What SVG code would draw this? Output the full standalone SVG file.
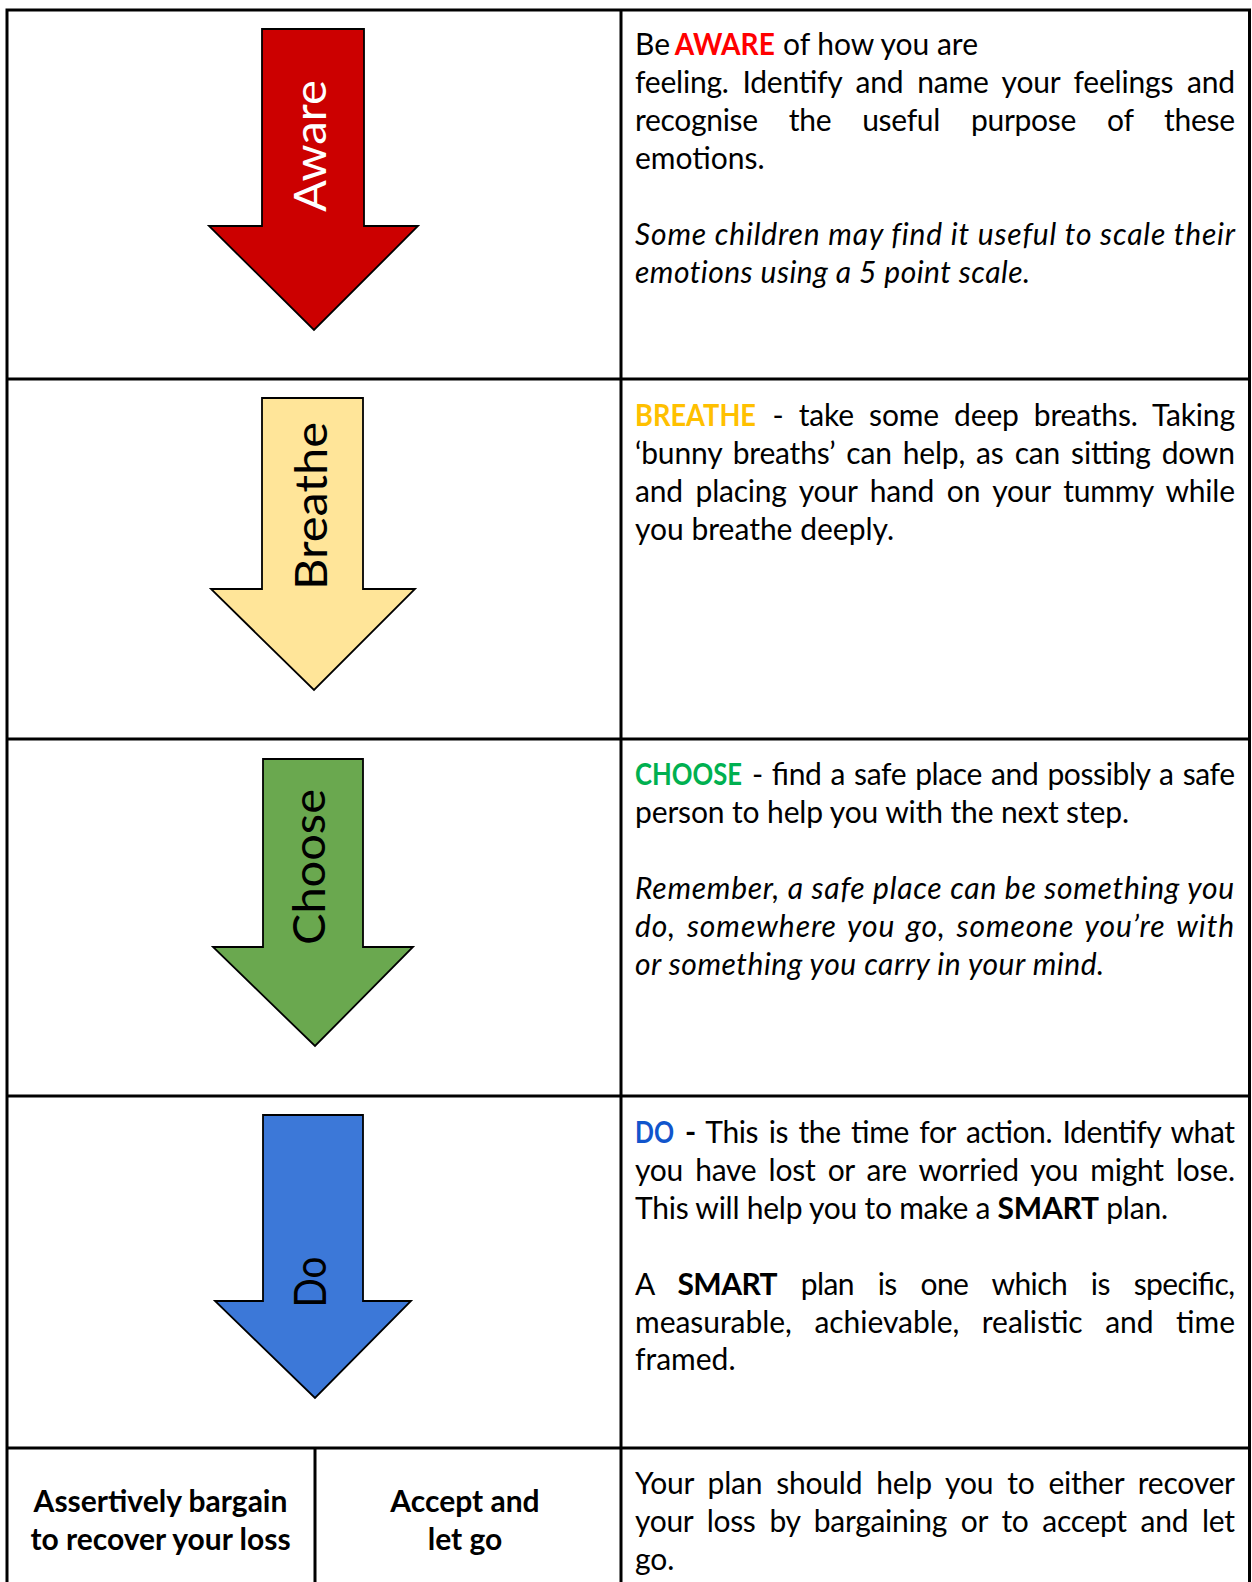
<svg xmlns="http://www.w3.org/2000/svg" width="1252" height="1582" viewBox="0 0 1252 1582">
<style>
.t{font-family:Lato,"Open Sans",sans-serif;font-size:30px;fill:#000}
.i{font-style:italic;letter-spacing:0.9px}
.b{font-weight:bold}
.lbl{font-family:Lato,"Noto Sans",sans-serif;font-size:44px;text-anchor:middle}
.arrow{stroke:#000;stroke-width:1.8;stroke-linejoin:miter}
.grid{stroke:#000;stroke-width:3;fill:none}
.c{text-anchor:middle}
</style>
<rect width="1252" height="1582" fill="#fff"/>
<g id="table" class="grid">
<path d="M5.5 10H1251M7 8.5V1582M1249.5 8.5V1582M621 10V1582M7 379H1250M7 739H1250M7 1096H1250M7 1448H1250M315 1448V1582"/>
</g>
<g id="connectors"></g>
<g id="node-aware">
<polygon class="arrow" fill="#cc0000" points="262,29 364,29 364,226 418,226 314,330 209,226 262,226"/>
<text class="lbl" fill="#fff" transform="translate(326,146) rotate(-90)" textLength="132" lengthAdjust="spacingAndGlyphs">Aware</text>
</g>
<g id="node-breathe">
<polygon class="arrow" fill="#ffe599" points="262,398 363,398 363,589 415,589 314,690 211,589 262,589"/>
<text class="lbl" fill="#000" transform="translate(326.5,506) rotate(-90)" textLength="168" lengthAdjust="spacingAndGlyphs">Breathe</text>
</g>
<g id="node-choose">
<polygon class="arrow" fill="#6aa84f" points="263,759 363,759 363,947 413,947 315,1046 213,947 263,947"/>
<text class="lbl" fill="#000" transform="translate(325,867) rotate(-90)" textLength="156" lengthAdjust="spacingAndGlyphs">Choose</text>
</g>
<g id="node-do">
<polygon class="arrow" fill="#3c78d8" points="263,1115 363,1115 363,1301 411,1301 315,1398 215,1301 263,1301"/>
<text class="lbl" fill="#000" transform="translate(325.5,1282) rotate(-90)" textLength="51" lengthAdjust="spacingAndGlyphs">Do</text>
</g>
<g id="text-aware" class="t">
<text x="635" y="55">Be</text>
<text class="b" fill="#ff0000" transform="translate(674.8,55) scale(0.93,1)" textLength="107.5" lengthAdjust="spacingAndGlyphs">AWARE</text>
<text x="783" y="55" textLength="195" lengthAdjust="spacing"><tspan>of</tspan> <tspan>how</tspan> <tspan>you</tspan> <tspan>are</tspan></text>
<text x="635" y="93" textLength="600" lengthAdjust="spacing" style="word-spacing:6.3px"><tspan>feeling.</tspan> <tspan>Identify</tspan> <tspan>and</tspan> <tspan>name</tspan> <tspan>your</tspan> <tspan>feelings</tspan> <tspan>and</tspan></text>
<text x="635" y="131" textLength="600" lengthAdjust="spacing" style="word-spacing:23.6px"><tspan>recognise</tspan> <tspan>the</tspan> <tspan>useful</tspan> <tspan>purpose</tspan> <tspan>of</tspan> <tspan>these</tspan></text>
<text x="635" y="169">emotions.</text>
<text x="635" y="245" class="i" textLength="601" lengthAdjust="spacing"><tspan>Some</tspan> <tspan>children</tspan> <tspan>may</tspan> <tspan>find</tspan> <tspan>it</tspan> <tspan>useful</tspan> <tspan>to</tspan> <tspan>scale</tspan> <tspan>their</tspan></text>
<text x="635" y="283" class="i" textLength="396" lengthAdjust="spacing"><tspan>emotions</tspan> <tspan>using</tspan> <tspan>a</tspan> <tspan>5</tspan> <tspan>point</tspan> <tspan>scale.</tspan></text>
</g>
<g id="text-breathe" class="t">
<text class="b" fill="#ffc000" transform="translate(635,426) scale(0.91,1)" textLength="133" lengthAdjust="spacingAndGlyphs">BREATHE</text>
<text x="772.6" y="426" textLength="462.4" lengthAdjust="spacing" style="word-spacing:7.7px"><tspan>-</tspan> <tspan>take</tspan> <tspan>some</tspan> <tspan>deep</tspan> <tspan>breaths.</tspan> <tspan>Taking</tspan></text>
<text x="635" y="464" textLength="600" lengthAdjust="spacing" style="word-spacing:3.5px"><tspan>‘bunny</tspan> <tspan>breaths’</tspan> <tspan>can</tspan> <tspan>help,</tspan> <tspan>as</tspan> <tspan>can</tspan> <tspan>sitting</tspan> <tspan>down</tspan></text>
<text x="635" y="502" textLength="600" lengthAdjust="spacing" style="word-spacing:5.3px"><tspan>and</tspan> <tspan>placing</tspan> <tspan>your</tspan> <tspan>hand</tspan> <tspan>on</tspan> <tspan>your</tspan> <tspan>tummy</tspan> <tspan>while</tspan></text>
<text x="635" y="540"><tspan>you</tspan> <tspan>breathe</tspan> <tspan>deeply.</tspan></text>
</g>
<g id="text-choose" class="t">
<text class="b" fill="#00b050" transform="translate(635,785) scale(0.87,1)" textLength="123" lengthAdjust="spacingAndGlyphs">CHOOSE</text>
<text x="752" y="785" textLength="483" lengthAdjust="spacing" style="word-spacing:1.8px"><tspan>-</tspan> <tspan>find</tspan> <tspan>a</tspan> <tspan>safe</tspan> <tspan>place</tspan> <tspan>and</tspan> <tspan>possibly</tspan> <tspan>a</tspan> <tspan>safe</tspan></text>
<text x="635" y="823" textLength="494" lengthAdjust="spacing"><tspan>person</tspan> <tspan>to</tspan> <tspan>help</tspan> <tspan>you</tspan> <tspan>with</tspan> <tspan>the</tspan> <tspan>next</tspan> <tspan>step.</tspan></text>
<text x="635" y="899" class="i" textLength="600" lengthAdjust="spacing"><tspan>Remember,</tspan> <tspan>a</tspan> <tspan>safe</tspan> <tspan>place</tspan> <tspan>can</tspan> <tspan>be</tspan> <tspan>something</tspan> <tspan>you</tspan></text>
<text x="635" y="937" class="i" textLength="600" lengthAdjust="spacing" style="word-spacing:3px"><tspan>do,</tspan> <tspan>somewhere</tspan> <tspan>you</tspan> <tspan>go,</tspan> <tspan>someone</tspan> <tspan>you’re</tspan> <tspan>with</tspan></text>
<text x="635" y="975" class="i" textLength="470" lengthAdjust="spacing"><tspan>or</tspan> <tspan>something</tspan> <tspan>you</tspan> <tspan>carry</tspan> <tspan>in</tspan> <tspan>your</tspan> <tspan>mind.</tspan></text>
</g>
<g id="text-do" class="t">
<text class="b" fill="#1155cc" transform="translate(635,1143) scale(0.855,1)" textLength="45.6" lengthAdjust="spacingAndGlyphs">DO</text>
<text x="685" y="1143" textLength="550" lengthAdjust="spacing" style="word-spacing:3.2px"><tspan class="b">-</tspan> <tspan>This</tspan> <tspan>is</tspan> <tspan>the</tspan> <tspan>time</tspan> <tspan>for</tspan> <tspan>action.</tspan> <tspan>Identify</tspan> <tspan>what</tspan></text>
<text x="635" y="1181" textLength="600" lengthAdjust="spacing" style="word-spacing:4.8px"><tspan>you</tspan> <tspan>have</tspan> <tspan>lost</tspan> <tspan>or</tspan> <tspan>are</tspan> <tspan>worried</tspan> <tspan>you</tspan> <tspan>might</tspan> <tspan>lose.</tspan></text>
<text x="635" y="1218.7" textLength="533" lengthAdjust="spacing"><tspan>This</tspan> <tspan>will</tspan> <tspan>help</tspan> <tspan>you</tspan> <tspan>to</tspan> <tspan>make</tspan> <tspan>a</tspan> <tspan class="b">SMART</tspan> <tspan>plan.</tspan></text>
<text x="635" y="1295" textLength="600" lengthAdjust="spacing" style="word-spacing:16.7px"><tspan>A</tspan> <tspan class="b">SMART</tspan> <tspan>plan</tspan> <tspan>is</tspan> <tspan>one</tspan> <tspan>which</tspan> <tspan>is</tspan> <tspan>specific,</tspan></text>
<text x="635" y="1332.7" textLength="600" lengthAdjust="spacing" style="word-spacing:14.9px"><tspan>measurable,</tspan> <tspan>achievable,</tspan> <tspan>realistic</tspan> <tspan>and</tspan> <tspan>time</tspan></text>
<text x="635" y="1370.3">framed.</text>
</g>
<g id="node-bargain" class="t b">
<text class="c" x="160.5" y="1512"><tspan>Assertively</tspan> <tspan>bargain</tspan></text>
<text class="c" x="160.5" y="1550"><tspan>to</tspan> <tspan>recover</tspan> <tspan>your</tspan> <tspan>loss</tspan></text>
</g>
<g id="node-accept" class="t b">
<text class="c" x="465" y="1512"><tspan>Accept</tspan> <tspan>and</tspan></text>
<text class="c" x="465" y="1550"><tspan>let</tspan> <tspan>go</tspan></text>
</g>
<g id="text-plan" class="t">
<text x="635" y="1494" textLength="600" lengthAdjust="spacing" style="word-spacing:6.6px"><tspan>Your</tspan> <tspan>plan</tspan> <tspan>should</tspan> <tspan>help</tspan> <tspan>you</tspan> <tspan>to</tspan> <tspan>either</tspan> <tspan>recover</tspan></text>
<text x="635" y="1532" textLength="600" lengthAdjust="spacing" style="word-spacing:6.5px"><tspan>your</tspan> <tspan>loss</tspan> <tspan>by</tspan> <tspan>bargaining</tspan> <tspan>or</tspan> <tspan>to</tspan> <tspan>accept</tspan> <tspan>and</tspan> <tspan>let</tspan></text>
<text x="635" y="1570">go.</text>
</g>
</svg>
